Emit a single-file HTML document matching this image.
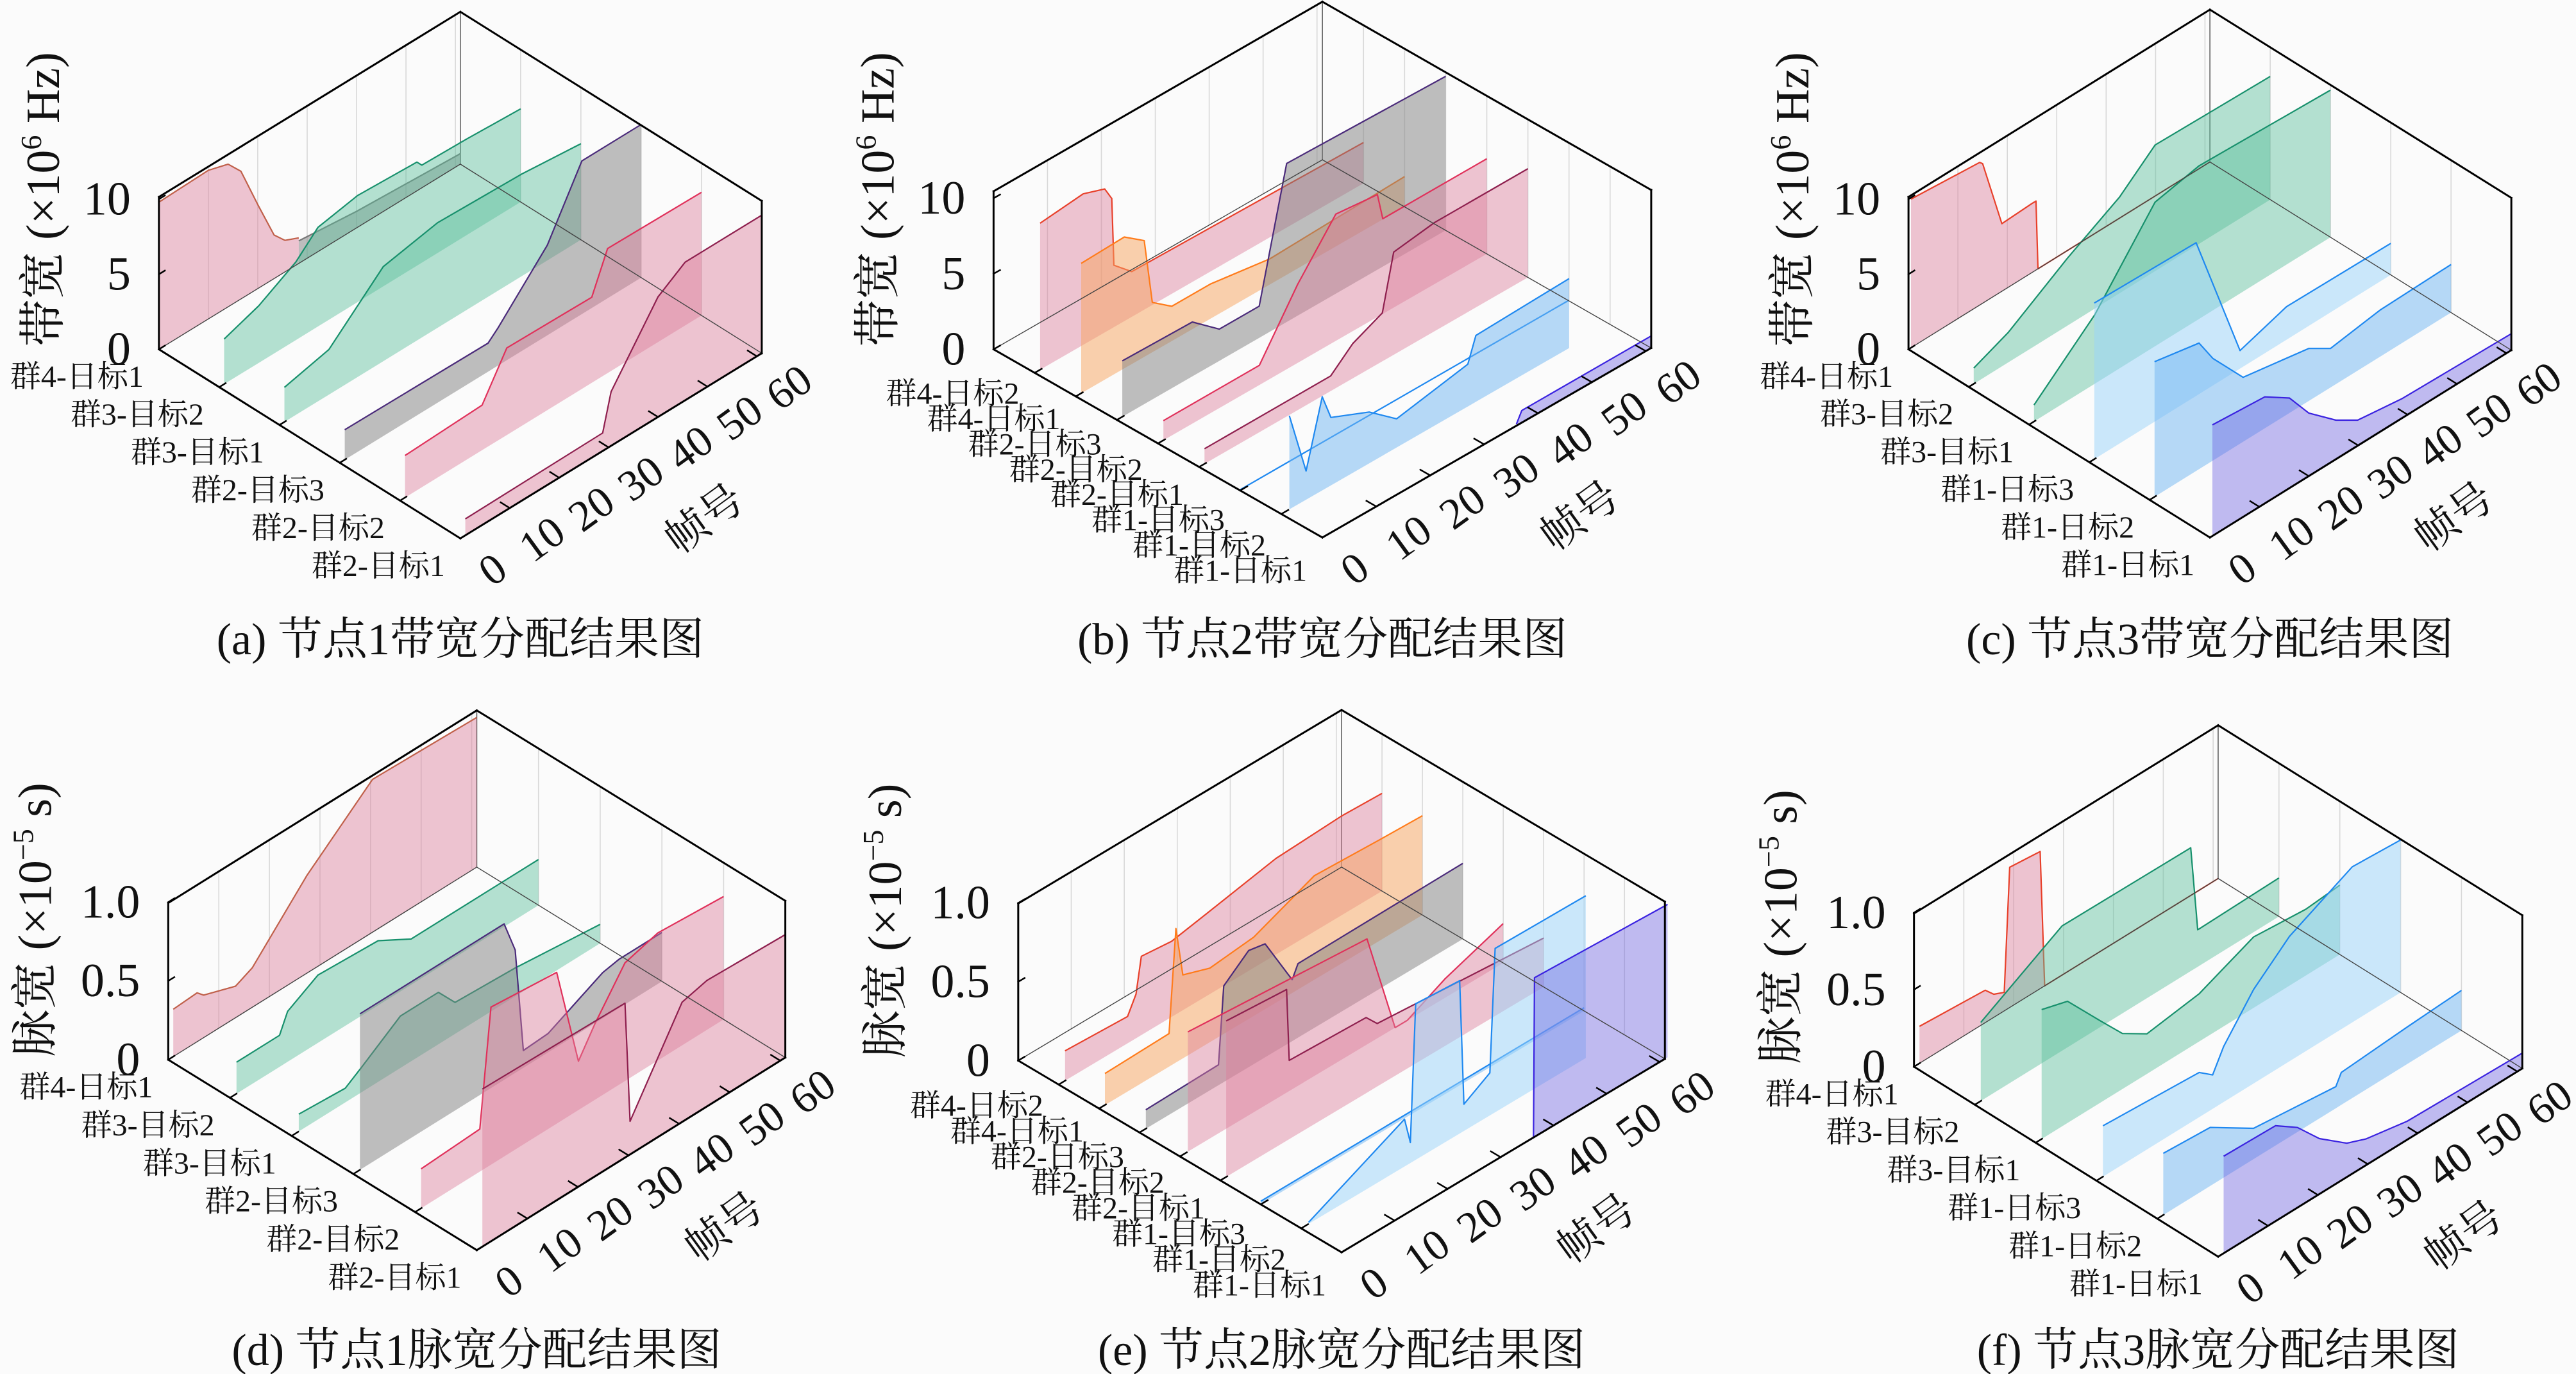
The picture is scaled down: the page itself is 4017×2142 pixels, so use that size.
<!DOCTYPE html>
<html><head><meta charset="utf-8">
<style>
html,body{margin:0;padding:0;background:#fbfbfb;}
svg{display:block;}
text{font-family:"Liberation Serif","Noto Serif CJK SC","Noto Sans CJK SC",serif;fill:#111;}
</style></head>
<body>
<svg id="fig" xmlns="http://www.w3.org/2000/svg" width="4017" height="2142" viewBox="0 0 4017 2142">
<rect x="0" y="0" width="4017" height="2142" fill="#fbfbfb"/>
</svg>
<script>
// ---------- data: frame positions and values per series ----------
// Panel (a) node1 bandwidth (x1e6 Hz)
const aF0=[0,10,14,16.6,20,23.3,25.5,28.3]; const aZ0=[9.8,9.9,9.5,8.5,5.6,2.9,2.1,1.7];
const aF0b=[28.3,40,61]; const aZ0b=[1.5,1.1,0.7];
const aF1=[1,8,15.5,20,28,40,41,50,61]; const aZ1=[3.0,3.8,5.2,6.6,7.1,6.9,6.5,6.4,6.2];
const aF2=[1,10,21,32,49,61]; const aZ2=[2.3,3.0,6.3,7.0,6.8,6.4];
const aF3=[1,30,32,42,49,61]; const aZ3=[2.0,1.9,2.5,6.0,10.2,10.2];
const aF4=[1,16.6,21.6,38.8,42,61]; const aZ4=[2.8,3.0,5.8,5.7,8.3,8.2];
const aF5=[1,28.8,30.5,40,45.5,61]; const aZ5=[1.1,1.2,3.6,8.0,9.2,9.2];
// Panel (b) node2 bandwidth
const bF1=[1,9,13,14.3,14.7,18,33,61]; const bZ1=[9.7,10,9.5,8.6,4.1,3.0,2.9,2.7];
const bF2=[1,9,12.7,14.2,17.8,25,36,61]; const bZ2=[8.6,8.7,7.7,3.3,2.3,2.3,1.7,2.0];
const bF3=[1,14,19,26.4,31.5,61]; const bZ3=[3.7,3.6,2.1,2.1,10.5,10.2];
const bF4=[1,18.8,25.9,33,40.7,41.7,61]; const bZ4=[1.3,1.3,5.2,8.4,8.1,6.3,6.3];
const bF5=[1,24.4,28.5,34,36.1,43.7,61]; const bZ5=[1.0,1.0,2.3,3.2,6.8,7.2,7.2];
const bF6=[0,61]; const bZ6=[0.05,0.05];
const bF7=[1.5,4.6,7.6,9.2,16.3,21.4,34.6,36.1,53.4]; const bZ7=[6.2,1.9,6.2,4.5,3.4,1.9,2.8,4.4,4.6];
const bF8=[36,37,61]; const bZ8=[0.1,0.8,0.8];
// Panel (c) node3 bandwidth
const cF0=[0.5,14.4,15,18.9,25,25.8,26.2,61]; const cZ0=[9.9,9.5,9.3,4.5,4.6,4.6,0,0];
const cF1=[1,8,20,30.5,37.7,61]; const cZ1=[1.05,2.0,4.5,6.4,8.4,8.2];
const cF2=[1,13.3,25.5,34.4,61]; const cZ2=[1.1,4.6,9.6,10.2,9.8];
const cF3=[1,21.6,30.5,39.9,61]; const cZ3=[10.4,10.2,1.2,2.2,2.1];
const cF4=[1,10,12.8,18.9,32.2,36.6,46.6,61]; const cZ4=[9.0,8.4,6.8,4.3,3.5,2.6,3.1,3.2];
const cF5=[0.5,11.1,16.1,20,25.5,29.9,38.8,61]; const cZ5=[7.4,7.1,6.0,4.2,2.6,1.7,1.3,1.1];
// Panel (d) node1 pulse width (x1e-5 s)
const dF0=[1,5.7,7,13.3,16.6,27.4,40.4,61]; const dZ0=[0.30,0.31,0.27,0.2,0.25,0.62,0.97,0.95];
const dF1=[1.3,9.8,11.4,17.4,29.3,35.8,61]; const dZ1=[0.2,0.2,0.32,0.43,0.41,0.29,0.29];
const dF2=[1.4,10.6,13.9,21.5,29,32.3,44.2,61]; const dZ2=[0.11,0.09,0.16,0.33,0.33,0.2,0.18,0.12];
const dF3=[1.3,29.8,32,33.6,38.5,49.3,52.5,61]; const dZ3=[0.99,0.99,0.78,0.11,0.12,0.29,0.31,0.31];
const dF4=[1.2,12.8,15,28,32.3,35.5,41.5,48,61]; const dZ4=[0.25,0.27,1.0,0.96,0.31,0.48,0.75,0.81,0.78];
const dF5=[1.1,29.3,30.3,40.6,45.5,61]; const dZ5=[1.0,0.98,0.21,0.76,0.8,0.78];
// Panel (e) node2 pulse width
const eF1=[1.2,13,14.6,15.6,21.3,27.5,41,53.4,61]; const eZ1=[0.19,0.17,0.28,0.5,0.48,0.52,0.61,0.63,0.62];
const eF2=[1.1,13.2,14.5,15.8,20.9,29.2,40.6,53,61]; const eZ2=[0.2,0.21,0.85,0.53,0.47,0.5,0.66,0.64,0.63];
const eF3=[1.2,14.9,15.9,20.6,23.7,28.8,29.9,61]; const eZ3=[0.12,0.13,0.61,0.74,0.72,0.39,0.47,0.48];
const eF4=[1.5,35.3,40.6,42.9,50,61]; const eZ4=[0.76,0.67,0.0,0.0,0.12,0.25];
const eF5=[1.1,12.5,13,27.5,29.6,61]; const eZ5=[0.99,0.96,0.5,0.48,0.4,0.31];
const eF6=[0,61]; const eZ6=[0.02,0.02];
const eF7=[1.4,19.5,20.6,21.6,29.9,30.7,35.6,36.6,53.7]; const eZ7=[0.01,0.3,0.13,0.99,0.97,0.17,0.27,1.04,1.03];
const eF8=[36.2,36.4,61.5]; const eZ8=[0,1.01,0.97];
// Panel (f) node3 pulse width
const fF0=[1.1,14.3,16,18.1,19.2,25.3,26.2,61]; const fZ0=[0.24,0.21,0.15,0.12,0.91,0.89,0,0];
const fF1=[1.2,17.5,43.3,44.7,61]; const fZ1=[0.51,0.81,0.8,0.24,0.25];
const fF2=[1.2,6.4,13,17.4,22.3,32.8,43.7,54.2,61]; const fZ2=[0.84,0.79,0.53,0.36,0.26,0.31,0.46,0.43,0.45];
const fF3=[1.3,20.6,23.3,25.5,31.5,38.7,51.3,61]; const fZ3=[0.33,0.29,0.22,0.36,0.61,0.81,1.01,0.99];
const fF4=[1.2,10.6,19.3,35.8,36.9,50.1,61]; const fZ4=[0.4,0.38,0.2,0.14,0.21,0.24,0.26];
const fF5=[1.1,11.5,15.9,20.3,25.8,29.7,37.9,61]; const fZ5=[0.63,0.62,0.52,0.36,0.22,0.17,0.12,0.1];

// tick labels / category labels
const frameTicks=[0,10,20,30,40,50,60];
const bwTicks=[0,5,10]; const bwTickLabels=["0","5","10"];
const pwTicks=[0,0.5,1.0]; const pwTickLabels=["0","0.5","1.0"];
const labelsA=["群4-日标1","群3-目标2","群3-目标1","群2-目标3","群2-目标2","群2-目标1"];
const labelsB=["群4-日标2","群4-日标1","群2-日标3","群2-目标2","群2-目标1","群1-目标3","群1-目标2","群1-日标1"];
const labelsC=["群4-日标1","群3-目标2","群3-目标1","群1-日标3","群1-日标2","群1-日标1"];
const captions=["(a) 节点1带宽分配结果图","(b) 节点2带宽分配结果图","(c) 节点3带宽分配结果图","(d) 节点1脉宽分配结果图","(e) 节点2脉宽分配结果图","(f) 节点3脉宽分配结果图"];

// ---------- geometry ----------
const KX=1340/1568, KY=1070/1568, FMAX=61;
function geo(ox,oy,L,Fr,B,h,ppu,Ns,first){
  return {ox,oy,L,Fr,B,h,ppu,Ns,first,ds:[(Fr[0]-L[0])/Ns,(Fr[1]-L[1])/Ns],df:[(B[0]-L[0])/FMAX,(B[1]-L[1])/FMAX],zTop:h/ppu};
}
const G=[
  geo(0,0,[290,798],[840,1230],[840,375],348,34.3,5,0),
  geo(1340,0,[245,798],[845,1228],[845,365],361,34.5,8,1),
  geo(2677,0,[350,798],[900,1228],[900,370],348,34.3,5,0),
  geo(0,1072,[307,850],[870,1285],[870,410],358,360,5,0),
  geo(1340,1072,[290,852],[880,1290],[880,410],359,360,8,1),
  geo(2677,1072,[360,866],[915,1300],[915,436],350,352,5,0)
];
function P(g,s,f,z){
  const zx=g.L[0]+s*g.ds[0]+f*g.df[0];
  const zy=g.L[1]+s*g.ds[1]+f*g.df[1]-z*g.ppu;
  return [g.ox+zx*KX, g.oy+zy*KY];
}

const PINK={fill:'#dc7f9c',op:0.45}, GREEN={fill:'#5cbf9b',op:0.45}, GRAY={fill:'#7f7f7f',op:0.5},
 LBLUE={fill:'#9ad4fa',op:0.5}, BLUE={fill:'#6fb6f2',op:0.5}, PURPLE={fill:'#6b5fe0',op:0.42}, ORANGE={fill:'#f8a35e',op:0.5};
const LN={brown:'#c0604a',green:'#17906c',dpurple:'#4a2a7a',red:'#e0305a',maroon:'#8e1f4e',orange:'#ff7b1a',redor:'#e8402a',blue:'#1e88f0',purple:'#3a22e0'};

const SERIES=[
 [ {s:0,F:aF0,Z:aZ0,c:PINK,l:LN.brown},{s:0,F:aF0b,Z:aZ0b,c:GRAY,l:'#777'},{s:1,F:aF1,Z:aZ1,c:GREEN,l:LN.green},{s:2,F:aF2,Z:aZ2,c:GREEN,l:LN.green},{s:3,F:aF3,Z:aZ3,c:GRAY,l:LN.dpurple},{s:4,F:aF4,Z:aZ4,c:PINK,l:LN.red},{s:5,F:aF5,Z:aZ5,c:PINK,l:LN.maroon} ],
 [ {s:1,F:bF1,Z:bZ1,c:PINK,l:LN.redor},{s:2,F:bF2,Z:bZ2,c:ORANGE,l:LN.orange},{s:3,F:bF3,Z:bZ3,c:GRAY,l:LN.dpurple},{s:4,F:bF4,Z:bZ4,c:PINK,l:LN.red},{s:5,F:bF5,Z:bZ5,c:PINK,l:LN.maroon},{s:6,F:bF6,Z:bZ6,c:BLUE,l:LN.blue},{s:7,F:bF7,Z:bZ7,c:BLUE,l:LN.blue},{s:8,F:bF8,Z:bZ8,c:PURPLE,l:LN.purple} ],
 [ {s:0,F:cF0,Z:cZ0,c:PINK,l:LN.redor},{s:1,F:cF1,Z:cZ1,c:GREEN,l:LN.green},{s:2,F:cF2,Z:cZ2,c:GREEN,l:LN.green},{s:3,F:cF3,Z:cZ3,c:LBLUE,l:LN.blue},{s:4,F:cF4,Z:cZ4,c:BLUE,l:LN.blue},{s:5,F:cF5,Z:cZ5,c:PURPLE,l:LN.purple} ],
 [ {s:0,F:dF0,Z:dZ0,c:PINK,l:LN.brown},{s:1,F:dF1,Z:dZ1,c:GREEN,l:LN.green},{s:2,F:dF2,Z:dZ2,c:GREEN,l:LN.green},{s:3,F:dF3,Z:dZ3,c:GRAY,l:LN.dpurple},{s:4,F:dF4,Z:dZ4,c:PINK,l:LN.red},{s:5,F:dF5,Z:dZ5,c:PINK,l:LN.maroon} ],
 [ {s:1,F:eF1,Z:eZ1,c:PINK,l:LN.redor},{s:2,F:eF2,Z:eZ2,c:ORANGE,l:LN.orange},{s:3,F:eF3,Z:eZ3,c:GRAY,l:LN.dpurple},{s:4,F:eF4,Z:eZ4,c:PINK,l:LN.red},{s:5,F:eF5,Z:eZ5,c:PINK,l:LN.maroon},{s:6,F:eF6,Z:eZ6,c:BLUE,l:LN.blue},{s:7,F:eF7,Z:eZ7,c:LBLUE,l:LN.blue},{s:8,F:eF8,Z:eZ8,c:PURPLE,l:LN.purple} ],
 [ {s:0,F:fF0,Z:fZ0,c:PINK,l:LN.redor},{s:1,F:fF1,Z:fZ1,c:GREEN,l:LN.green},{s:2,F:fF2,Z:fZ2,c:GREEN,l:LN.green},{s:3,F:fF3,Z:fZ3,c:LBLUE,l:LN.blue},{s:4,F:fF4,Z:fZ4,c:BLUE,l:LN.blue},{s:5,F:fF5,Z:fZ5,c:PURPLE,l:LN.purple} ]
];
const LABELS=[labelsA,labelsB,labelsC,labelsA,labelsB,labelsC];

const NS='http://www.w3.org/2000/svg';
const svg=document.getElementById('fig');
function mk(tag,attrs,parent){const el=document.createElementNS(NS,tag);for(const k in attrs)el.setAttribute(k,attrs[k]);(parent||svg).appendChild(el);return el;}
function pts(a){return a.map(p=>p[0].toFixed(1)+','+p[1].toFixed(1)).join(' ');}
function line(g,p1,p2,stroke,w,name,parent){
  const el=mk('line',{x1:p1[0],y1:p1[1],x2:p2[0],y2:p2[1],stroke:stroke,'stroke-width':w,'stroke-linecap':'square'},parent);
  
  
  return el;
}

G.forEach((g,pi)=>{
  const grp=mk('g',{});
  
  
  const bw=pi<3;
  const Ns=g.Ns, zt=g.zTop;
  for(let f=10;f<=60;f+=10){
    line(g,P(g,0,f,0),P(g,0,f,zt),'#d8d8d8',1.6,'grid-line-frame',grp);
  }
  for(let s=1;s<Ns;s++){
    line(g,P(g,s,FMAX,0),P(g,s,FMAX,zt),'#d8d8d8',1.6,'grid-line-series',grp);
  }
  line(g,P(g,0,FMAX,0),P(g,0,FMAX,zt),'#555',1.5,'back-edge',grp);
  SERIES[pi].forEach((sr,k)=>{
    const top=sr.F.map((f,i)=>P(g,sr.s,f,sr.Z[i]));
    const base=sr.F.map(f=>P(g,sr.s,f,0)).reverse();
    const poly=mk('polygon',{points:pts(top.concat(base)),fill:sr.c.fill,'fill-opacity':sr.c.op,stroke:'none'},grp);
    
    
    const pl=mk('polyline',{points:pts(top),fill:'none',stroke:sr.l,'stroke-width':2.2,'stroke-linejoin':'round'},grp);
    
    
  });
  line(g,P(g,0,0,0),P(g,0,FMAX,0),'#444',1.4,'floor-back-left-line',grp);
  line(g,P(g,0,FMAX,0),P(g,Ns,FMAX,0),'#444',1.4,'floor-back-right-line',grp);
  const LT=P(g,0,0,zt),T=P(g,0,FMAX,zt),RT=P(g,Ns,FMAX,zt),L=P(g,0,0,0),Fr=P(g,Ns,0,0),R=P(g,Ns,FMAX,0);
  [[LT,T],[T,RT],[LT,L],[L,Fr],[Fr,R],[R,RT]].forEach(e=>line(g,e[0],e[1],'#000',3,'axis-frame-edge',grp));
  const zt_=bw?bwTicks:pwTicks, zl=bw?bwTickLabels:pwTickLabels;
  zt_.forEach((z,i)=>{
    const p=P(g,0,0,z);
    line(g,p,P(g,0,1.2,z),'#000',2.5,'z-tick',grp);
    const t=mk('text',{x:p[0]-44,y:p[1],'font-size':74,'text-anchor':'end','dominant-baseline':'central'},grp);
    t.textContent=zl[i];
    
    
  });
  LABELS[pi].forEach((lab,i)=>{
    const s=g.first+i;
    const p=P(g,s,0,0);
    if(s>0&&s<Ns) line(g,p,P(g,s,1.3,0),'#000',2.5,'series-tick',grp);
    const dy=Ns===8?(33+(s-1)*2.7):43;
    const t=mk('text',{x:p[0]-24,y:p[1]+dy,'font-size':48,'text-anchor':'end','dominant-baseline':'central'},grp);
    t.textContent=lab;
    
    
  });
  frameTicks.forEach(f=>{
    const p=P(g,Ns,f,0);
    if(f>0) line(g,p,P(g,Ns-0.15*Ns/5,f,0),'#000',2.5,'frame-tick',grp);
    const x=p[0]+50,y=p[1]+48;
    const t=mk('text',{x:x,y:y,'font-size':68,'text-anchor':'middle','dominant-baseline':'central',transform:'rotate(-36 '+x+' '+y+')'},grp);
    t.textContent=String(f);
    
    
  });
  const pm=P(g,Ns,30,0);
  const fx=pm[0]+150, fy=pm[1]+112;
  const ft=mk('text',{x:fx,y:fy,'font-size':66,'text-anchor':'middle','dominant-baseline':'central',transform:'rotate(-36 '+fx+' '+fy+')'},grp);
  ft.textContent='帧号';
  
  
  const tx=L[0]+(bw?-156:-183), ty=L[1]-4;
  const zt2=mk('text',{x:tx,y:ty,'font-size':74,'text-anchor':'start',transform:'rotate(-90 '+tx+' '+ty+')'},grp);
  
  
  const t1=mk('tspan',{},zt2); t1.textContent=bw?'带宽 (×10':'脉宽 (×10';
  
  
  const t2=mk('tspan',{'font-size':46,dy:-28},zt2); t2.textContent=bw?'6':'−5';
  
  
  const t3=mk('tspan',{dy:28},zt2); t3.textContent=bw?' Hz)':' s)';
  
  
  const cy=pi<3?1020:2128;
  const cap=mk('text',{x:Fr[0],y:cy,'font-size':70,'text-anchor':'middle'},grp);
  cap.textContent=captions[pi];
  
  
});
</script>
</body></html>
